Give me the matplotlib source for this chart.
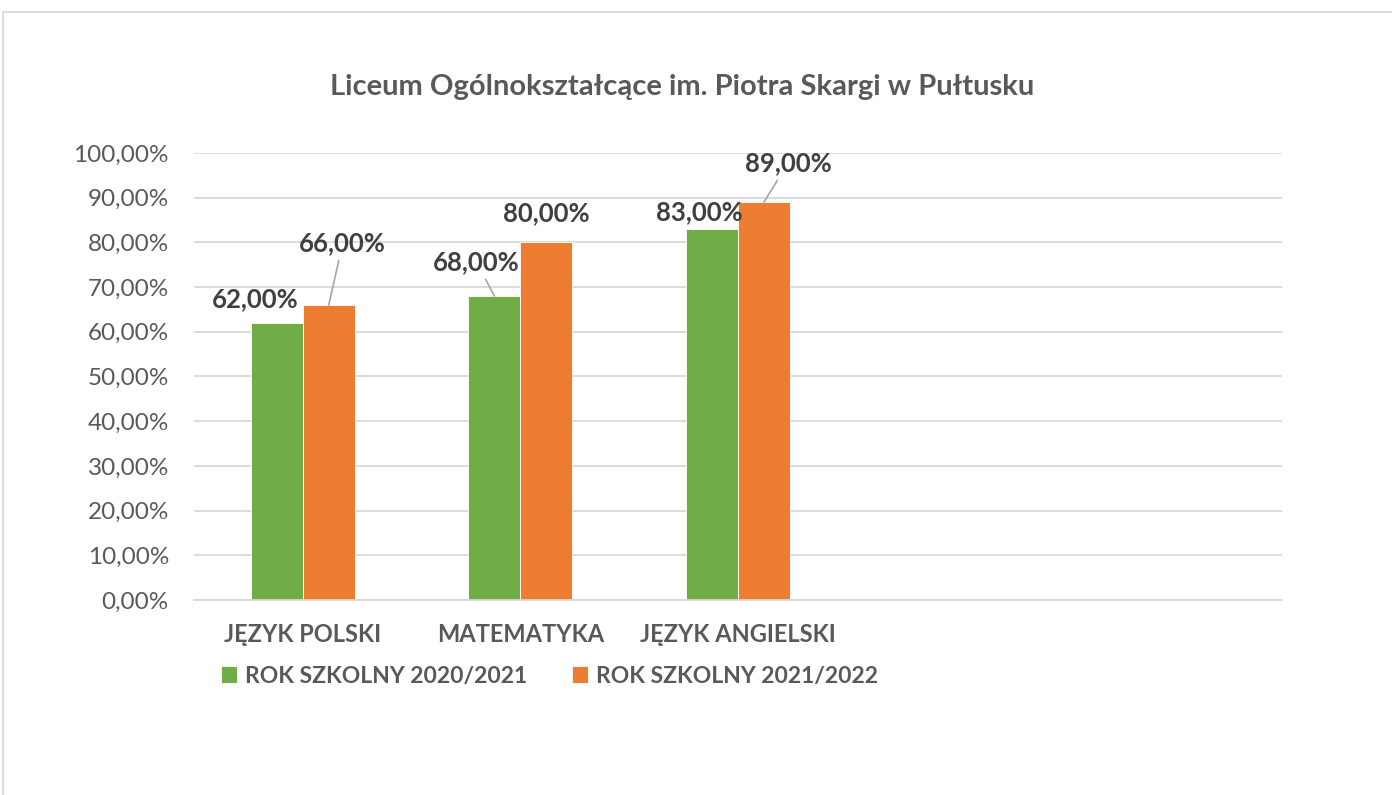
import matplotlib
matplotlib.use("Agg")
import matplotlib.pyplot as plt
from matplotlib.patches import Rectangle
from matplotlib.ticker import FuncFormatter, MultipleLocator
import numpy as np

plt.rcParams['font.family'] = ['Lato', 'DejaVu Sans']

title = "Liceum Ogólnokształcące im. Piotra Skargi w Pułtusku"
categories = ["JĘZYK POLSKI", "MATEMATYKA", "JĘZYK ANGIELSKI", "", ""]
series_names = ["ROK SZKOLNY 2020/2021", "ROK SZKOLNY 2021/2022"]
values_2020 = [0.62, 0.68, 0.83]
values_2021 = [0.66, 0.80, 0.89]

colors = ["#70AD47", "#ED7D31"]
text_gray = "#595959"
grid_gray = "#D9D9D9"

# label offsets in pixels (dx, dy) from bar top centre, and whether a leader line is drawn
offs_2020 = [(-22, 24, False), (-18, 34, True), (-13, 17, False)]
offs_2021 = [(14, 62, True), (0, 29, False), (24, 39, True)]

fig = plt.figure(figsize=(13.92, 7.95), dpi=100)
ax = fig.add_axes([194/1392, 1-600/795, (1282-194)/1392, (600-153)/795])

n = len(categories)
x = np.arange(n)
w = 52/218

def fmt(v):
    return f"{v*100:.2f}".replace(".", ",") + "%"

bars1 = ax.bar(np.arange(len(values_2020)) - w/2, values_2020, width=w, color=colors[0],
               label=series_names[0], zorder=3, edgecolor="white", linewidth=0.6)
bars2 = ax.bar(np.arange(len(values_2021)) + w/2, values_2021, width=w, color=colors[1],
               label=series_names[1], zorder=3, edgecolor="white", linewidth=0.6)

for bars, vals, offs in [(bars1, values_2020, offs_2020), (bars2, values_2021, offs_2021)]:
    for b, v, (dx, dy, line) in zip(bars, vals, offs):
        xc = b.get_x() + b.get_width()/2
        kw = {}
        if line:
            kw['arrowprops'] = dict(arrowstyle='-', color='#A6A6A6', lw=1.2,
                                    shrinkA=2, shrinkB=0)
        ax.annotate(fmt(v), xy=(xc, v), xytext=(dx, dy), textcoords='offset pixels',
                    ha='center', va='center', fontsize=18.5, fontweight='bold',
                    color="#404040", zorder=5, **kw)

ax.set_xlim(-0.5, n - 0.5)
ax.set_ylim(0, 1.0)
ax.yaxis.set_major_locator(MultipleLocator(0.1))
ax.yaxis.set_major_formatter(FuncFormatter(lambda v, p: fmt(v)))
ax.set_xticks(x)
ax.set_xticklabels(categories, fontweight='bold')
ax.tick_params(axis='x', length=0, pad=16.5, labelsize=17, labelcolor=text_gray)
ax.tick_params(axis='y', length=0, pad=18, labelsize=17.5, labelcolor=text_gray)
for lbl in ax.get_yticklabels():
    lbl.set_horizontalalignment('right')
ax.grid(axis='y', color=grid_gray, linewidth=1.3, zorder=0)
for s in ['top', 'right', 'left']:
    ax.spines[s].set_visible(False)
ax.spines['bottom'].set_color(grid_gray)
ax.spines['bottom'].set_linewidth(1.3)
ax.spines['bottom'].set_zorder(4)

fig.text(682/1392, 1-87/795, title, ha='center', va='center', fontsize=21,
         fontweight='bold', color=text_gray)

leg = fig.legend(handles=[bars1, bars2], labels=series_names, loc='center left',
                 bbox_to_anchor=(200/1392, 1-676/795), ncol=2, frameon=False,
                 handlelength=0.7, handleheight=0.7, handletextpad=0.35,
                 columnspacing=1.95, prop={'weight': 'bold', 'size': 16.5})
for t in leg.get_texts():
    t.set_color(text_gray)

fig.patches.append(Rectangle((3/1392, -0.1), 1.2, 1.1 - 12/795, transform=fig.transFigure,
                             fill=False, edgecolor=grid_gray, linewidth=1.3))

fig.savefig("out.png", dpi=100)
